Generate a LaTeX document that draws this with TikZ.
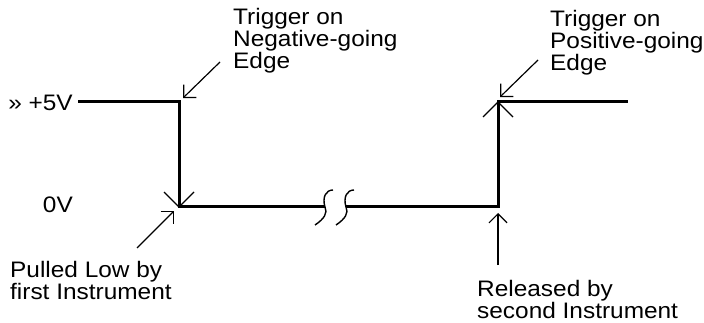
\documentclass[tikz,border=0pt]{standalone}
\usepackage{fontspec}
\setmainfont[FakeStretch=1.09]{Liberation Sans}
\usetikzlibrary{arrows.meta,calc}
\begin{document}
\begin{tikzpicture}[x=1pt,y=-1pt,
  signal/.style={line width=3pt, line join=miter, line cap=butt},
  pointer/.style={line width=1.2pt, -{Straight Barb[length=9pt,width=18pt]}},
  edgemark/.style={line width=1.2pt},
  breakmark/.style={line width=1.4pt},
  lbl/.style={font=\fontsize{22.4}{21.8}\selectfont, align=left, inner sep=0pt, anchor=base west},
  level/.style={font=\fontsize{22.4}{21.8}\selectfont, inner sep=0pt, anchor=base east}]
\useasboundingbox (0,0) rectangle (704,323);

% key points of the waveform
\coordinate (start) at (78,102);
\coordinate (fallTop) at (179,102);
\coordinate (fallBot) at (179,207);
\coordinate (breakL) at (325,207);
\coordinate (breakR) at (346,207);
\coordinate (riseBot) at (498,207);
\coordinate (riseTop) at (498,102);
\coordinate (finish) at (628,102);

% waveform
\draw[signal] (start) -- (fallTop) -- (fallBot) -- (breakL);
\draw[signal] (breakR) -- (riseBot) -- (riseTop) -- (finish);

% time-break marks
\draw[breakmark] (333,190) .. controls (326,190) and (322,197) .. (breakL)
  .. controls (328,213) and (324,219) .. (315,225);
\draw[breakmark] (354,190) .. controls (347,190) and (343,197) .. (breakR)
  .. controls (349,213) and (345,219) .. (336,225);

% direction marks on the edges
\draw[edgemark] ($(fallBot)+(-15,-15)$) -- (fallBot) -- ($(fallBot)+(15,-15)$);
\draw[edgemark] ($(riseTop)+(-15,15)$) -- (riseTop) -- ($(riseTop)+(15,15)$);

% level labels
\node[level] (high) at (73,111) {» +5V};
\node[level] (low) at (73,213) {0V};

% annotations (anchored at the baseline of their last line)
\node[lbl] (neg) at (233,68.5) {Trigger on\\Negative-going\\Edge};
\node[lbl] (pos) at (550,70.5) {Trigger on\\Positive-going\\Edge};
\node[lbl] (pull) at (10,299) {Pulled Low by\\first Instrument};
\node[lbl] (rel) at (477,318) {Released by\\second Instrument};

% pointers
\coordinate (negFrom) at (220,62);
\coordinate (negTo) at (183,98);
\coordinate (pullFrom) at (137,248);
\coordinate (pullTo) at (174,211);
\coordinate (posFrom) at (538,60);
\coordinate (posTo) at (500,97);
\coordinate (relFrom) at (498,265);
\coordinate (relTo) at (498,213);
\draw[pointer] (negFrom) -- (negTo);
\draw[pointer] (pullFrom) -- (pullTo);
\draw[pointer] (posFrom) -- (posTo);
\draw[pointer] (relFrom) -- (relTo);
\end{tikzpicture}
\end{document}
